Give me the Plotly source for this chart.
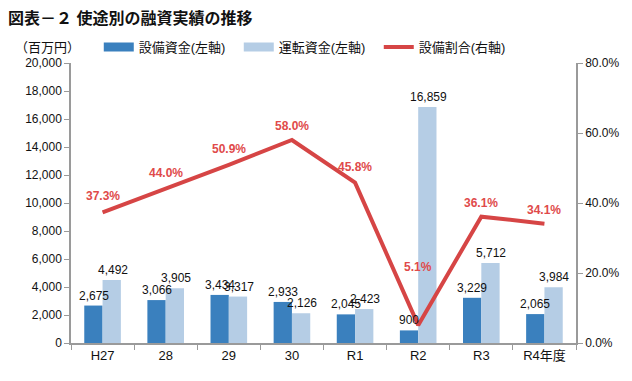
import plotly.graph_objects as go

categories = ["H27", "28", "29", "30", "R1", "R2", "R3", "R4年度"]
setsubi = [2675, 3066, 3434, 2933, 2045, 900, 3229, 2065]
unten = [4492, 3905, 3317, 2126, 2423, 16859, 5712, 3984]
ratio = [0.373, 0.440, 0.509, 0.580, 0.458, 0.051, 0.361, 0.341]
ratio_labels = ["37.3%", "44.0%", "50.9%", "58.0%", "45.8%", "5.1%", "36.1%", "34.1%"]

FONT = "Liberation Sans, Noto Sans CJK JP, sans-serif"
DARK = "#3A80BE"
LIGHT = "#B5CDE5"
RED = "#D64545"
AXIS = "#9A9A9A"

fig = go.Figure()
fig.add_trace(go.Bar(
    x=categories, y=setsubi, name="設備資金(左軸)", showlegend=False,
    marker=dict(color=DARK, line=dict(width=0)),
))
fig.add_trace(go.Bar(
    x=categories, y=unten, name="運転資金(左軸)", showlegend=False,
    marker=dict(color=LIGHT, line=dict(width=0)),
))
fig.add_trace(go.Scatter(
    x=categories, y=ratio, name="設備割合(右軸)", yaxis="y2", showlegend=False,
    mode="lines", line=dict(color=RED, width=4),
))
# legend entries (wide flat swatches like the original)
for name, col, w in [("設備資金(左軸)", DARK, 9), ("運転資金(左軸)", LIGHT, 9), ("設備割合(右軸)", RED, 4)]:
    fig.add_trace(go.Scatter(x=[None], y=[None], name=name, mode="lines",
                             line=dict(color=col, width=w)))

# bar value labels (drawn on top of the bars)
for i, (a, b) in enumerate(zip(setsubi, unten)):
    fig.add_annotation(x=i, y=a, xref="x", yref="y", text=f"{a:,}", showarrow=False,
                       xshift=-9, yshift=1, yanchor="bottom",
                       font=dict(size=12, color="#111", family=FONT))
    fig.add_annotation(x=i, y=b, xref="x", yref="y", text=f"{b:,}", showarrow=False,
                       xshift=10, yshift=1, yanchor="bottom",
                       font=dict(size=12, color="#111", family=FONT))

# percentage labels
shifts = [16, 16, 16, 14, 16, 58, 14, 14]
for i, (r, t, s) in enumerate(zip(ratio, ratio_labels, shifts)):
    fig.add_annotation(x=i, y=r, xref="x", yref="y2", text=f"<b>{t}</b>", showarrow=False,
                       yshift=s, font=dict(size=12, color="#E04A4A", family=FONT))

fig.add_annotation(xref="paper", yref="paper", x=-0.115, y=1.057, xanchor="left",
                   yanchor="middle", text="（百万円）", showarrow=False,
                   font=dict(size=13, color="#111", family=FONT))

fig.update_layout(
    width=624, height=373,
    margin=dict(l=63, r=56, t=55, b=38, autoexpand=False),
    paper_bgcolor="white", plot_bgcolor="white",
    font=dict(family=FONT, color="#111"),
    title=dict(text="<b>図表－２ 使途別の融資実績の推移</b>", xref="container", yref="container",
               x=0.0, y=1-10/373, xanchor="left", yanchor="middle",
               font=dict(size=16, color="#111", family=FONT)),
    barmode="group", bargap=0.42, bargroupgap=0,
    showlegend=True,
    legend=dict(orientation="h", x=0.055, y=1.057, xanchor="left", yanchor="middle",
                font=dict(size=13, family=FONT), bgcolor="rgba(0,0,0,0)",
                itemwidth=30, tracegroupgap=0, entrywidth=95, entrywidthmode="pixels"),
    xaxis=dict(type="category", showline=True, linecolor=AXIS, linewidth=1.5,
               ticks="outside", tickson="boundaries", ticklen=5, tickcolor=AXIS,
               tickangle=0, automargin=False,
               tickfont=dict(size=13, family=FONT, color="#111"), showgrid=False),
    yaxis=dict(range=[0, 20000], dtick=2000, tickformat=",", showline=True,
               linecolor=AXIS, linewidth=1.5, ticks="outside", ticklen=5, tickcolor=AXIS,
               showgrid=False, zeroline=False, automargin=False,
               tickfont=dict(size=12, family=FONT, color="#111")),
    yaxis2=dict(range=[0, 0.8], dtick=0.2, tickformat=".1%", overlaying="y", side="right",
                showline=True, linecolor=AXIS, linewidth=1.5, ticks="outside", ticklen=5,
                tickcolor=AXIS, showgrid=False, zeroline=False, automargin=False,
                tickfont=dict(size=12, family=FONT, color="#111")),
)

fig.write_html("out.html")
